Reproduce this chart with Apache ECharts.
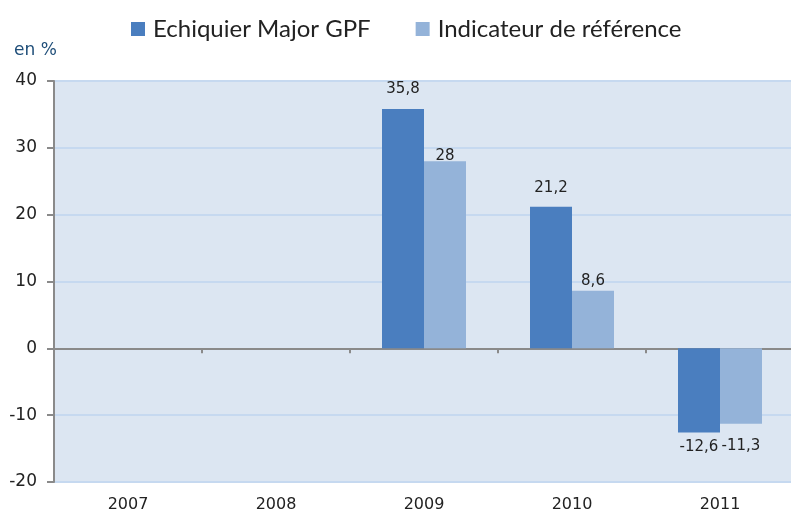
<!DOCTYPE html>
<html>
<head>
<meta charset="utf-8">
<script src="https://cdn.jsdelivr.net/npm/echarts@6/dist/echarts.min.js"></script>
<style>
  html, body { margin: 0; padding: 0; background: #fff; }
  #chart { width: 791px; height: 513px; }
</style>
</head>
<body>
<div id="chart"></div>
<script>
  // données
  var years = ['2007', '2008', '2009', '2010', '2011'];
  var fundName = 'Echiquier Major GPF';
  var benchName = 'Indicateur de référence';
  var fundValues = [null, null, 35.8, 21.2, -12.6];
  var benchValues = [null, null, 28, 8.6, -11.3];

  // écart des étiquettes (style)
  var fundGap = [0, 0, 12, 11, 7];
  var benchGap = [0, 0, -2, 2, 15];

  var fmt = function (p) { return String(p.value).replace('.', ','); };
  function items(vals, gaps) {
    return vals.map(function (v, i) {
      return { value: v, label: { distance: gaps[i] } };
    });
  }

  var myChart = echarts.init(document.getElementById('chart'));
  myChart.setOption({
    animation: false,
    title: {
      text: 'en %', left: 9, top: 37,
      textStyle: { fontFamily: 'DejaVu Sans', fontSize: 17, fontWeight: 'normal', color: '#1f4e79' }
    },
    legend: {
      top: 12, left: 126, itemGap: 45,
      itemWidth: 14, itemHeight: 14, icon: 'rect',
      textStyle: { fontFamily: 'Lato', fontSize: 24, color: '#222', padding: [0, 0, 0, 3] },
      data: [fundName, benchName]
    },
    grid: {
      left: 54, top: 81, bottom: 31, width: 740,
      outerBoundsMode: 'none', containLabel: false,
      show: true, backgroundColor: '#dce6f2', borderWidth: 0
    },
    xAxis: {
      type: 'category', data: years,
      axisLine: { onZero: true, lineStyle: { color: '#8a8a8a', width: 2 } },
      axisTick: { show: true, length: 5, lineStyle: { color: '#8a8a8a', width: 2 } },
      axisLabel: { margin: 15, fontFamily: 'DejaVu Sans', fontSize: 16, color: '#222' }
    },
    yAxis: {
      type: 'value', min: -20, max: 40, interval: 10,
      axisLine: { show: true, lineStyle: { color: '#8a8a8a', width: 2 } },
      axisTick: { show: true, length: 7, lineStyle: { color: '#8a8a8a', width: 2 } },
      axisLabel: { margin: 17, fontFamily: 'DejaVu Sans', fontSize: 17, color: '#222' },
      splitLine: { lineStyle: { color: '#c6d9f0', width: 2 } }
    },
    series: [{
      name: fundName, type: 'bar',
      barWidth: 42, barGap: '0%',
      itemStyle: { color: '#4a7ebf' },
      label: { show: true, position: 'outside', formatter: fmt,
        fontFamily: 'DejaVu Sans', fontSize: 15, color: '#222' },
      data: items(fundValues, fundGap)
    }, {
      name: benchName, type: 'bar',
      barWidth: 42, barGap: '0%',
      itemStyle: { color: '#94b3d9' },
      label: { show: true, position: 'outside', formatter: fmt,
        fontFamily: 'DejaVu Sans', fontSize: 15, color: '#222' },
      data: items(benchValues, benchGap)
    }]
  });
</script>
</body>
</html>
